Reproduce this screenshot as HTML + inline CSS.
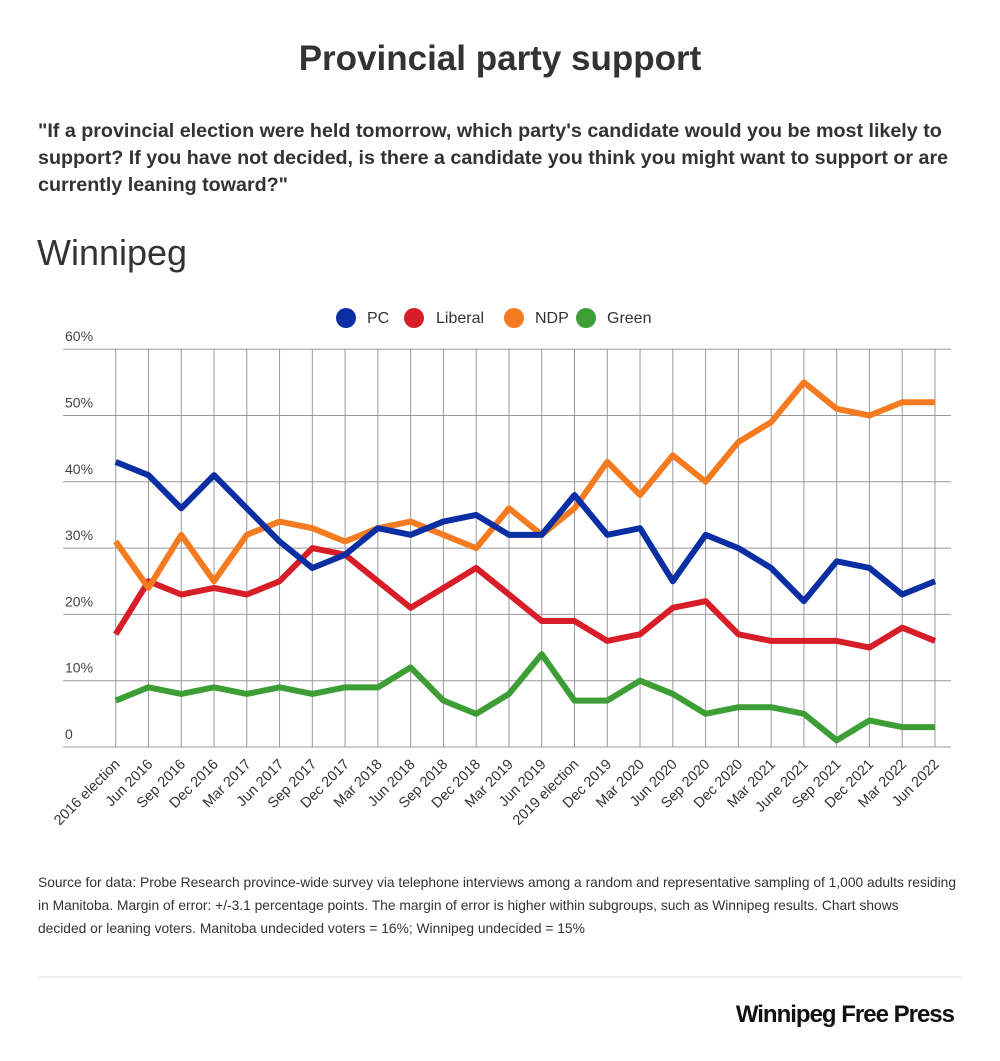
<!DOCTYPE html>
<html><head><meta charset="utf-8"><style>
body{margin:0;background:#fff;width:1000px;height:1056px;overflow:hidden;font-family:"Liberation Sans",Arial,sans-serif;color:#333}
</style></head><body>
<svg width="1000" height="1056" xmlns="http://www.w3.org/2000/svg" font-family="Liberation Sans, Arial, sans-serif">
<text x="500" y="70" text-anchor="middle" font-size="35" font-weight="bold" fill="#333">Provincial party support</text>
<text x="38" y="137" font-size="19.7" font-weight="bold" fill="#333">"If a provincial election were held tomorrow, which party's candidate would you be most likely to</text>
<text x="38" y="164" font-size="19.7" font-weight="bold" fill="#333">support? If you have not decided, is there a candidate you think you might want to support or are</text>
<text x="38" y="191" font-size="19.7" font-weight="bold" fill="#333">currently leaning toward?"</text>
<text x="37" y="265" font-size="36" fill="#333">Winnipeg</text>
<g font-size="16" fill="#333">
<circle cx="346" cy="318" r="10" fill="#0a2fa3"/><text x="367" y="323">PC</text>
<circle cx="414" cy="318" r="10" fill="#d71e28"/><text x="436" y="323">Liberal</text>
<circle cx="514" cy="318" r="10" fill="#f47b20"/><text x="535" y="323">NDP</text>
<circle cx="586" cy="318" r="10" fill="#3c9e35"/><text x="607" y="323">Green</text>
</g>
<g id="grid" stroke="#999" stroke-width="1"></g>
<g id="ylab" font-size="14" fill="#444"></g>
<g id="lines" fill="none" stroke-width="6" stroke-linejoin="round"></g>
<g id="xlab" font-size="14.5" fill="#333"></g>
<text x="38" y="887" font-size="13.8" fill="#333">Source for data:  Probe Research province-wide survey via telephone interviews among a random and representative sampling of 1,000 adults residing</text>
<text x="38" y="910" font-size="13.8" fill="#333">in Manitoba.  Margin of error: +/-3.1 percentage points.  The margin of error is higher within subgroups, such as Winnipeg results.  Chart shows</text>
<text x="38" y="933" font-size="13.8" fill="#333">decided or leaning voters. Manitoba undecided voters = 16%; Winnipeg undecided = 15%</text>
<line x1="38" y1="977" x2="962" y2="977" stroke="#ddd"/>
<text x="954" y="1022" text-anchor="end" font-size="24" font-weight="bold" fill="#111" letter-spacing="-1">Winnipeg Free Press</text>
</svg>
<script>
const ns="http://www.w3.org/2000/svg";
const labels=["2016 election","Jun 2016","Sep 2016","Dec 2016","Mar 2017","Jun 2017","Sep 2017","Dec 2017","Mar 2018","Jun 2018","Sep 2018","Dec 2018","Mar 2019","Jun 2019","2019 election","Dec 2019","Mar 2020","Jun 2020","Sep 2020","Dec 2020","Mar 2021","June 2021","Sep 2021","Dec 2021","Mar 2022","Jun 2022"];
const X=i=>115.7+i*(935-115.7)/25, Y=v=>747-v*6.63;
const g=document.getElementById('grid'),yl=document.getElementById('ylab'),xl=document.getElementById('xlab'),ln=document.getElementById('lines');
function el(p,t,a,txt){const e=document.createElementNS(ns,t);for(const k in a)e.setAttribute(k,a[k]);if(txt)e.textContent=txt;p.appendChild(e);}
for(let v=0;v<=60;v+=10){el(g,'line',{x1:63,x2:951,y1:Y(v),y2:Y(v)});el(yl,'text',{x:65,y:Y(v)-8},v?v+'%':'0');}
labels.forEach((l,i)=>{el(g,'line',{x1:X(i),x2:X(i),y1:Y(60),y2:Y(0)});el(xl,'text',{'text-anchor':'end',transform:`translate(${X(i)+5},${Y(0)+18}) rotate(-45)`},l);});
const data={"#0a2fa3":[43,41,36,41,36,31,27,29,33,32,34,35,32,32,38,32,33,25,32,30,27,22,28,27,23,25],
"#d71e28":[17,25,23,24,23,25,30,29,25,21,24,27,23,19,19,16,17,21,22,17,16,16,16,15,18,16],
"#f47b20":[31,24,32,25,32,34,33,31,33,34,32,30,36,32,36,43,38,44,40,46,49,55,51,50,52,52],
"#3c9e35":[7,9,8,9,8,9,8,9,9,12,7,5,8,14,7,7,10,8,5,6,6,5,1,4,3,3]};
for(const c of ["#3c9e35","#d71e28","#f47b20","#0a2fa3"]){el(ln,'polyline',{stroke:c,points:data[c].map((v,i)=>X(i)+','+Y(v)).join(' ')});}
</script>
</body></html>
